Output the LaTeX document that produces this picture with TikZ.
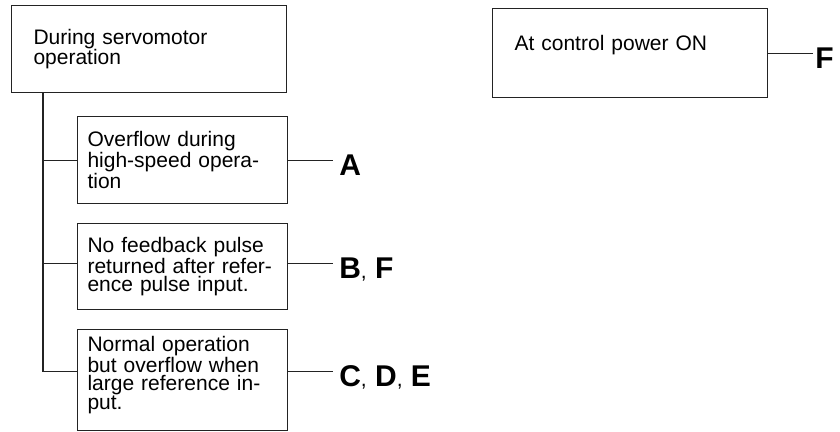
\documentclass[tikz,border=0pt]{standalone}
\usepackage{fontspec}
\setmainfont{Liberation Sans}
\usepackage{tikz}
\usetikzlibrary{positioning}
\definecolor{ink}{RGB}{35,35,35}
\newcommand{\lsep}{{\fontsize{21}{21}\selectfont\mdseries,} }

\begin{document}
\begin{tikzpicture}[x=1pt, y=-1pt,
      box/.style={rectangle, draw=ink, line width=1.1pt, align=left,
                  font=\fontsize{21}{18.5}\selectfont, inner ysep=0pt},
      wide/.style={box, minimum width=275pt, text width=231pt, inner xsep=22pt},
      cause/.style={box, minimum width=210pt, text width=190pt, inner xsep=10pt},
      lbl/.style={font=\fontsize{30}{30}\selectfont\bfseries, inner xsep=6pt,
                  inner ysep=0pt, text height=30pt, text depth=0pt},
      link/.style={draw=ink, line width=1.1pt},
      node distance=19pt,
      ]
    \useasboundingbox (0,0) rectangle (840,431);

    % left: while running
    \node[wide, minimum height=87pt, anchor=north west] (op) at (11,5)
      {During servomotor\\operation};
    \node[cause, minimum height=87pt, anchor=north west] (ovf) at (77,116)
      {Overflow during\\high-speed opera-\\tion};
    \node[cause, minimum height=86pt, below=of ovf] (fb)
      {No feedback pulse\\returned after refer-\\ence pulse input.};
    \node[cause, minimum height=101pt, text depth=72pt, below=of fb] (big)
      {Normal operation\\but overflow when\\large reference in-\\put.};

    % right: at power on
    \node[wide, minimum height=89pt, text depth=20pt, anchor=north west] (pwr) at (492,8)
      {At control power ON};

    % causes
    \node[lbl, right=45pt of ovf] (lblA) {A};
    \node[lbl, right=45pt of fb, yshift=3pt] (lblB) {B\lsep F};
    \node[lbl, right=45pt of big, yshift=8.5pt] (lblC) {C\lsep D\lsep E};
    \node[lbl, inner xsep=2pt, right=45pt of pwr] (lblF) {F};

    \coordinate (trunk) at ([xshift=32pt]op.south west);
    \draw[link] (trunk) |- (big.west |- lblC);
    \draw[link] (trunk |- lblA) -- (ovf.west |- lblA);
    \draw[link] (trunk |- lblB) -- (fb.west |- lblB);

    \draw[link] (ovf.east |- lblA) -- (lblA);
    \draw[link] (fb.east |- lblB) -- (lblB);
    \draw[link] (big.east |- lblC) -- (lblC);
    \draw[link] (pwr.east |- lblF) -- (lblF);
  \end{tikzpicture}
\end{document}
